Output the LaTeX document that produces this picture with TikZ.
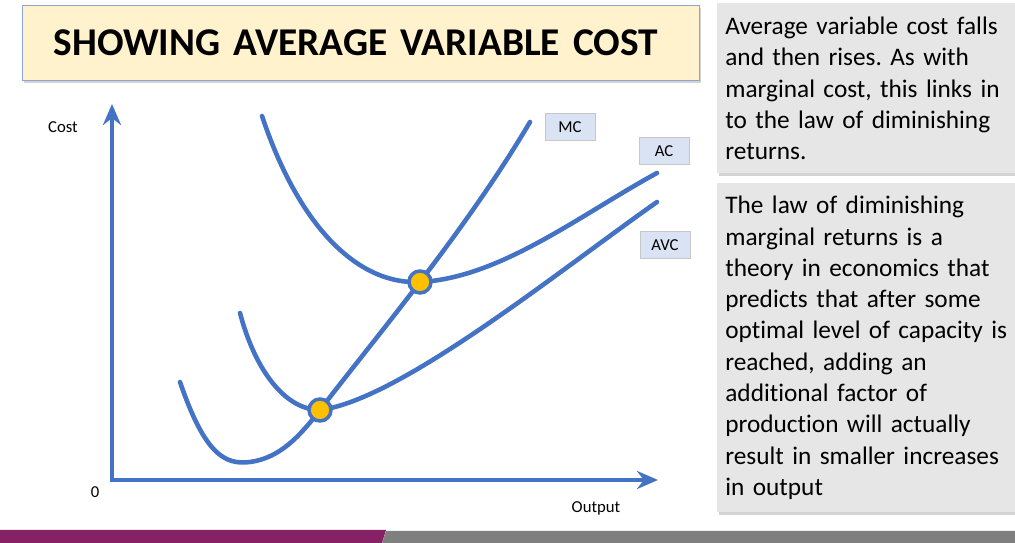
\documentclass[tikz,border=0pt]{standalone}
\usepackage{fontspec}
\setmainfont{Carlito}[Ligatures=NoCommon]
\usetikzlibrary{arrows.meta,shadows}
\definecolor{curve}{HTML}{4472C4}
\definecolor{titlefill}{HTML}{FFF2CC}
\definecolor{titleline}{HTML}{8EA4CF}
\definecolor{notefill}{HTML}{E6E6E6}
\definecolor{tagfill}{HTML}{DAE3F3}
\definecolor{dotfill}{HTML}{FFC000}
\definecolor{barpurple}{HTML}{862165}
\definecolor{bargrey}{HTML}{7F7F7F}
\newcommand{\notefont}{\fontsize{14.4}{17.8}\selectfont\frenchspacing\setlength{\lineskiplimit}{-20pt}}

\tikzset{
  curveline/.style={draw=curve, line width=2.6pt, line cap=round},
  tagbox/.style={draw=black!22, fill=tagfill, minimum width=1cm, minimum height=0.54cm, inner sep=0pt, font=\fontsize{9.5}{11}\selectfont},
  notebox/.style={fill=notefill, anchor=north west, text width=5.86cm, inner xsep=0.16cm, align=left,
    font=\notefont, drop shadow={shadow xshift=1pt, shadow yshift=-1.5pt, opacity=0.35}},
  dot/.style={circle, draw=curve, line width=2pt, fill=dotfill, minimum size=0.44cm, inner sep=0pt}
}

\begin{document}
\begin{tikzpicture}[x=0.02cm, y=-0.02cm, font=\fontsize{9.5}{11}\selectfont]
    \useasboundingbox (0,0) rectangle (1015,543);
    \fill[barpurple] (0,530) -- (386,530) -- (382,543) -- (0,543) -- cycle;
    \fill[bargrey] (386,531) -- (1015,531) -- (1015,543) -- (382,543) -- cycle;

    \node[draw=titleline, line width=0.6pt, fill=titlefill, minimum height=1.5cm, text width=12.3cm, inner xsep=0.62cm, align=left,
      drop shadow={shadow xshift=1pt, shadow yshift=-1.5pt, opacity=0.35}, font=\bfseries\fontsize{22.4}{26}\selectfont] (title) at (361,43)
      {SHOWING AVERAGE VARIABLE COST};

    \node[notebox, minimum height=3.4cm] (note) at (717,3)
      {Average variable cost falls\\ and then rises. As with\\ marginal cost, this links in\\ to the law of diminishing\\ returns.};
    \node[notebox, minimum height=6.58cm] (law) at (717,183)
      {The law of diminishing\\ marginal returns is a\\ theory in economics that\\ predicts that after some\\ optimal level of capacity is\\ reached, adding an\\ additional factor of\\ production will actually\\ result in smaller increases\\ in output};

    \coordinate (origin) at (112,480);
    \coordinate (ytop) at (112,104);
    \coordinate (xend) at (658,480);
    \draw[curveline, line cap=butt, {Stealth[length=0.42cm, width=0.36cm]}-{Stealth[length=0.42cm, width=0.36cm]}] (ytop) -- (origin) -- (xend);
    \node (costlab) at (63,127) {Cost};
    \node (zerolab) at (95,492) {0};
    \node (outlab) at (596,508) {Output};

    \coordinate (acdot) at (420,282);
    \coordinate (avcdot) at (320,410);
    \draw[curveline] (262,116) .. controls (300,230) and (360,285) .. (acdot) .. controls (500,278) and (580,215) .. (657,173);
    \draw[curveline] (240,313) .. controls (255,370) and (285,410) .. (avcdot) .. controls (400,400) and (560,270) .. (657,202);
    \draw[curveline] (180,382) .. controls (205,455) and (225,465) .. (250,462) .. controls (280,458) and (300,436) .. (avcdot)
      .. controls (375,338) and (465,232) .. (530,122);
    \node[dot] (acmin) at (acdot) {};
    \node[dot] (avcmin) at (avcdot) {};

    \node[tagbox] (mclab) at (570,127) {MC};
    \node[tagbox] (aclab) at (664,151) {AC};
    \node[tagbox] (avclab) at (665,245) {AVC};
  \end{tikzpicture}
\end{document}
